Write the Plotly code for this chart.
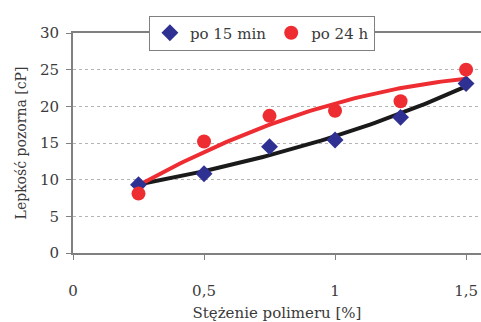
import numpy as np
import plotly.graph_objects as go

conc = [0.25, 0.5, 0.75, 1.0, 1.25, 1.5]
visc_15min = [9.3, 10.8, 14.5, 15.4, 18.5, 23.1]
visc_24h = [8.1, 15.2, 18.7, 19.4, 20.7, 25.0]
y_ticks = [0, 5, 10, 15, 20, 25, 30]
x_ticks = [0, 0.5, 1.0, 1.5]
x_tick_labels = ["0", "0,5", "1", "1,5"]

x = np.array(conc)
xf = np.linspace(x.min(), x.max(), 80)
# exponential trend (15 min) and 2nd-order polynomial trend (24 h), fitted from the data
b1, a1 = np.polyfit(x, np.log(visc_15min), 1)
trend_15 = np.exp(a1) * np.exp(b1 * xf)
trend_24 = np.polyval(np.polyfit(x, np.array(visc_24h), 2), xf)

FONT = "DejaVu Serif"
TXT = "#3a3a3a"
fig = go.Figure()
fig.add_trace(go.Scatter(x=xf, y=trend_15, mode="lines", line=dict(color="#1a1a1a", width=4), showlegend=False, hoverinfo="skip"))
fig.add_trace(go.Scatter(x=xf, y=trend_24, mode="lines", line=dict(color="#ee2d32", width=4), showlegend=False, hoverinfo="skip"))
fig.add_trace(go.Scatter(x=conc, y=visc_15min, mode="markers", name="po 15 min",
                         marker=dict(symbol="diamond", size=13, color="#2e3192")))
fig.add_trace(go.Scatter(x=conc, y=visc_24h, mode="markers", name="po 24 h",
                         marker=dict(symbol="circle", size=14, color="#ee2d32")))

fig.update_layout(
    width=481, height=322,
    margin=dict(l=73, r=0, t=33, b=69, autoexpand=False),
    paper_bgcolor="white", plot_bgcolor="white",
    font=dict(family=FONT, size=15, color=TXT),
    showlegend=True,
    legend=dict(orientation="h", x=0.463, xanchor="center", y=1.0, yanchor="middle",
                bgcolor="white", bordercolor="#808080", borderwidth=1,
                font=dict(family=FONT, size=15, color=TXT),
                itemwidth=30, tracegroupgap=0),
    xaxis=dict(range=[0, 1.557], tickvals=x_ticks, ticktext=x_tick_labels, automargin=False,
               showgrid=False, zeroline=False, showline=True, linecolor="#808080", linewidth=2,
               mirror=True, ticks="outside", ticklen=5, tickcolor="#808080", tickwidth=1,
               ticklabelstandoff=18, tickfont=dict(size=15),
               title=dict(text="Stężenie polimeru [%]", font=dict(family=FONT, size=15, color=TXT), standoff=8)),
    yaxis=dict(range=[0, 30], tickvals=y_ticks, automargin=False,
               showgrid=True, gridcolor="#b4b4b4", griddash="dot", gridwidth=1,
               zeroline=False, showline=True, linecolor="#808080", linewidth=2,
               ticks="outside", ticklen=5, tickcolor="#808080", tickwidth=1,
               ticklabelstandoff=4, tickfont=dict(size=15),
               title=dict(text="Lepkość pozorna [cP]", font=dict(family=FONT, size=14, color=TXT), standoff=10)),
)
fig.write_html("out.html", config={"displayModeBar": False},
               post_script="document.body.style.margin='0';document.body.style.overflow='hidden';")
